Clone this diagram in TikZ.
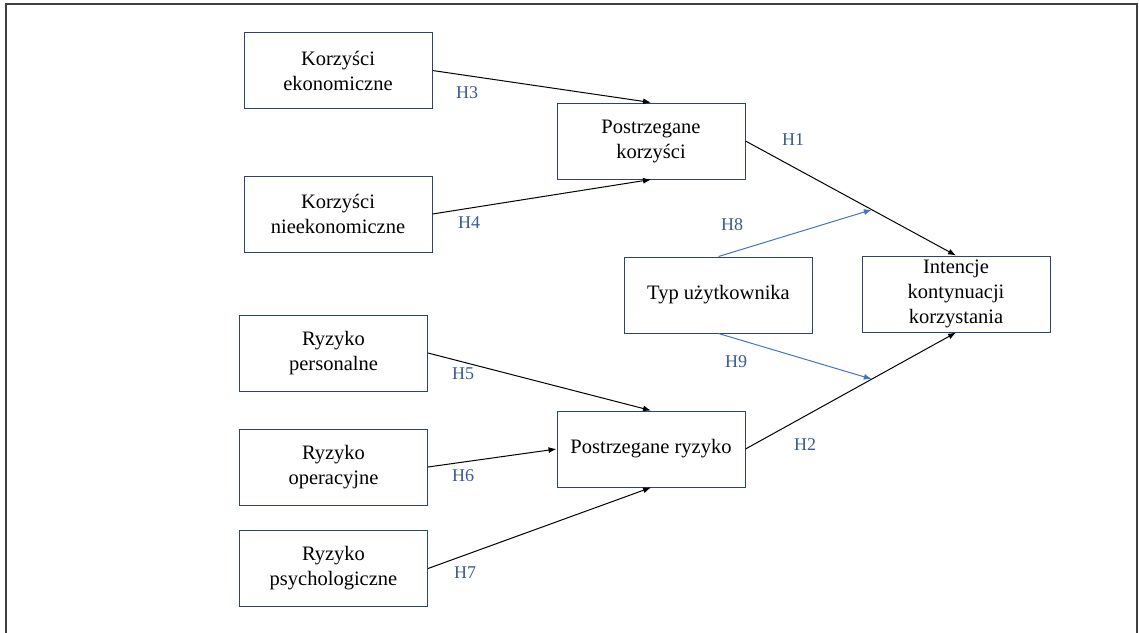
\documentclass[tikz,border=0pt]{standalone}
\usepackage{fontspec}
\setmainfont{Liberation Serif}
\usetikzlibrary{arrows.meta}
\definecolor{boxline}{RGB}{46,68,112}
\definecolor{hlabel}{RGB}{58,90,150}
\definecolor{modline}{RGB}{68,114,196}
\definecolor{frameline}{RGB}{64,64,64}

\begin{document}
\begin{tikzpicture}[x=1pt,y=-1pt,>={Latex[length=8pt,width=6pt]},
  var/.style={draw=boxline,line width=1pt,minimum width=188pt,minimum height=76pt,
    align=center,inner sep=2pt,font=\fontsize{20.5}{25}\selectfont},
  hyp/.style={text=hlabel,font=\fontsize{18}{20}\selectfont},
  path/.style={->,line width=1pt,black},
  mod/.style={->,line width=1pt,modline}]
  \useasboundingbox (0,0) rectangle (1139,632);
  % --- ramka ---
  \draw[frameline,line width=1.6pt] (6,640)--(6,4)--(1137,4)--(1137,640);
  % --- zmienne ---
  \node[var] (kek) at (338,70.5) {Korzyści\\ekonomiczne};
  \node[var] (knek) at (338,214) {Korzyści\\nieekonomiczne};
  \node[var] (pkor) at (651,141) {Postrzegane\\korzyści};
  \node[var] (typ) at (718.5,295) {Typ użytkownika};
  \node[var] (int) at (956,294) {Intencje\\kontynuacji\\korzystania};
  \node[var] (rper) at (333.5,353) {Ryzyko\\personalne};
  \node[var] (rop) at (333.5,467) {Ryzyko\\operacyjne};
  \node[var] (rpsy) at (333.5,568.5) {Ryzyko\\psychologiczne};
  \node[var] (pryz) at (651,449) {Postrzegane ryzyko};
  % --- sciezki ---
  \draw[path] (kek.east) -- (pkor.north);
  \draw[path] (knek.east) -- (pkor.south);
  \draw[path] (pkor.east) -- coordinate[pos=0.6] (m8) (int.north);
  \draw[path] (rper.east) -- (pryz.north);
  \draw[path] (rop.east) -- (pryz.west);
  \draw[path] (rpsy.east) -- (pryz.south);
  \draw[path] (pryz.east) -- coordinate[pos=0.6] (m9) (int.south);
  % --- moderacja ---
  \draw[mod] (typ.north) -- (m8);
  \draw[mod] (typ.south) -- (m9);
  % --- hipotezy ---
  \node[hyp] (h1) at (793,140) {H1};
  \node[hyp] (h2) at (805,445) {H2};
  \node[hyp] (h3) at (467,93) {H3};
  \node[hyp] (h4) at (469,223) {H4};
  \node[hyp] (h5) at (463,374) {H5};
  \node[hyp] (h6) at (463,476) {H6};
  \node[hyp] (h7) at (465,573) {H7};
  \node[hyp] (h8) at (732,225) {H8};
  \node[hyp] (h9) at (736,362) {H9};
\end{tikzpicture}
\end{document}
